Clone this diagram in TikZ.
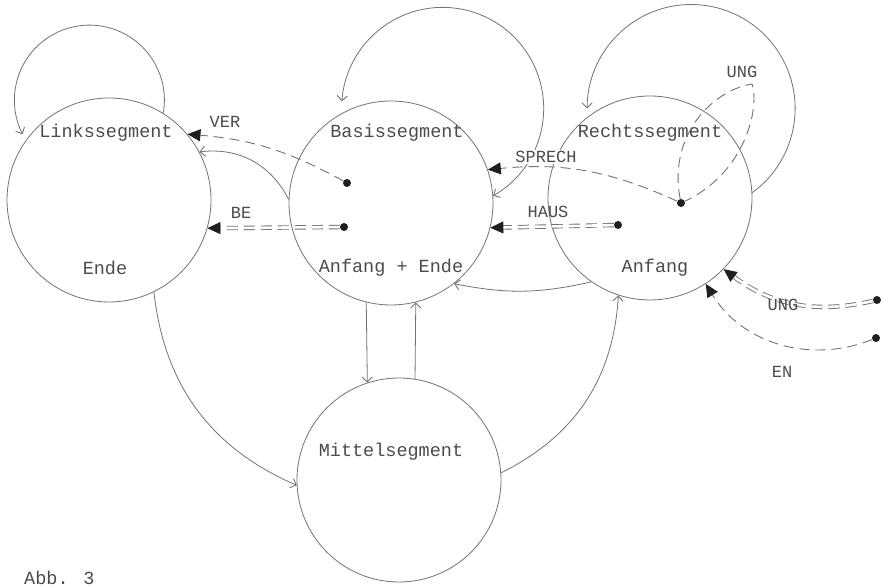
\documentclass[tikz,border=0pt]{standalone}
\usepackage{fontspec}
\newfontfamily\tw{Liberation Mono}
\usetikzlibrary{arrows.meta,calc}
\definecolor{linec}{gray}{0.45}
\definecolor{txtc}{gray}{0.3}
\definecolor{tipc}{gray}{0.12}
\begin{document}
\begin{tikzpicture}[x=1pt,y=1pt,
  state/.style={circle,draw=linec,line width=0.8pt,minimum size=204pt,inner sep=0pt},
  lbl/.style={font=\tw\fontsize{18.5}{20}\selectfont,text=txtc,inner sep=1pt},
  elbl/.style={font=\tw\fontsize{17}{19}\selectfont,text=txtc,inner sep=1pt},
  barb/.tip={Straight Barb[length=5pt,width=10pt,line width=0.9pt]},
  tri/.tip={Triangle[length=13pt,width=12pt,color=tipc]},
  sol/.style={draw=linec,line width=0.8pt,-barb},
  dsh/.style={draw=linec,line width=0.9pt,dash pattern=on 10pt off 6pt},
  dbl/.style={draw=linec,line width=0.9pt,double distance=2.6pt,dash pattern=on 11pt off 6pt,shorten >=11pt},
  tiponly/.style={draw=tipc,line width=0.8pt,dash pattern=on 0pt off 2000pt,-tri},
  dot/.style={circle,fill=tipc,inner sep=0pt,minimum size=8pt}]
\useasboundingbox[fill=white] (0,0) rectangle (883,588);

% states
\node[state] (L) at (109,388) {};
\node[state] (B) at (391,385) {};
\node[state] (R) at (650,390) {};
\node[state] (M) at (399,108) {};

\node[lbl] (Lt) at (106,455) {Linkssegment};
\node[lbl] (Le) at (105,320) {Ende};
\node[lbl] (Bt) at (397,455) {Basissegment};
\node[lbl] (Be) at (391,320) {Anfang + Ende};
\node[lbl] (Rt) at (650,455) {Rechtssegment};
\node[lbl] (Re) at (655,320) {Anfang};
\node[lbl] (Mt) at (391,136) {Mittelsegment};
\node[lbl,anchor=base west] (cap) at (23,3) {Abb. 3};

% loops
\draw[sol] (L.58) arc[start angle=-10,end angle=207,radius=75];
\draw[sol,barb-barb] (B.4) arc[start angle=-60,end angle=176,radius=101];
\draw[sol] (R.3) arc[start angle=-54,end angle=180,radius=104];

% solid transitions
\draw[sol] (R.235) to[bend left=12] (B.-52);
\draw[sol] (M.4) to[bend right=30] (R.252);
\draw[sol] (L.-64) to[bend right=30] (M.183);
\draw[sol] (B.178) to[bend right=35] (L.28);
\draw[sol] (B.256) -- (M.108);
\draw[sol] (M.81) -- (B.284);

% dots
\node[dot] (dVER) at (347,405) {};
\node[dot] (dBE) at (344,361) {};
\node[dot] (dSP) at (681,385) {};
\node[dot] (dHA) at (618,363) {};
\node[dot] (dU) at (877,288) {};
\node[dot] (dEN) at (876,250) {};
\coordinate (apex) at (752,504);

% dashed transitions
\draw[dsh,-tri] (dVER) to[bend right=12] (L.40);
\node[elbl,fill=white] (lVER) at (225,466) {VER};

\draw[dbl] (dBE) -- (L.-16);
\draw[tiponly] (dBE) -- (L.-16);
\node[elbl] (lBE) at (241,375) {BE};

\draw[dsh,-tri] (dSP) to[bend right=15] (B.19);
\node[elbl,fill=white] (lSP) at (546,431) {SPRECH};

\draw[dbl] (dHA) -- (B.-14);
\draw[tiponly] (dHA) -- (B.-14);
\node[elbl] (lHA) at (548,376) {HAUS};

\draw[dsh] (dSP) .. controls (668,450) and (710,497) .. (apex) .. controls (760,480) and (745,415) .. (dSP);
\node[elbl] (lU1) at (742,516) {UNG};

\draw[dbl] (dU) to[bend left=25] (R.-44);
\draw[tiponly] (dU) to[bend left=25] (R.-44);
\node[elbl] (lU2) at (783,283) {UNG};

\draw[dsh,-tri] (dEN) to[bend left=40] (R.-57);
\node[elbl] (lEN) at (782,216) {EN};
\end{tikzpicture}
\end{document}
